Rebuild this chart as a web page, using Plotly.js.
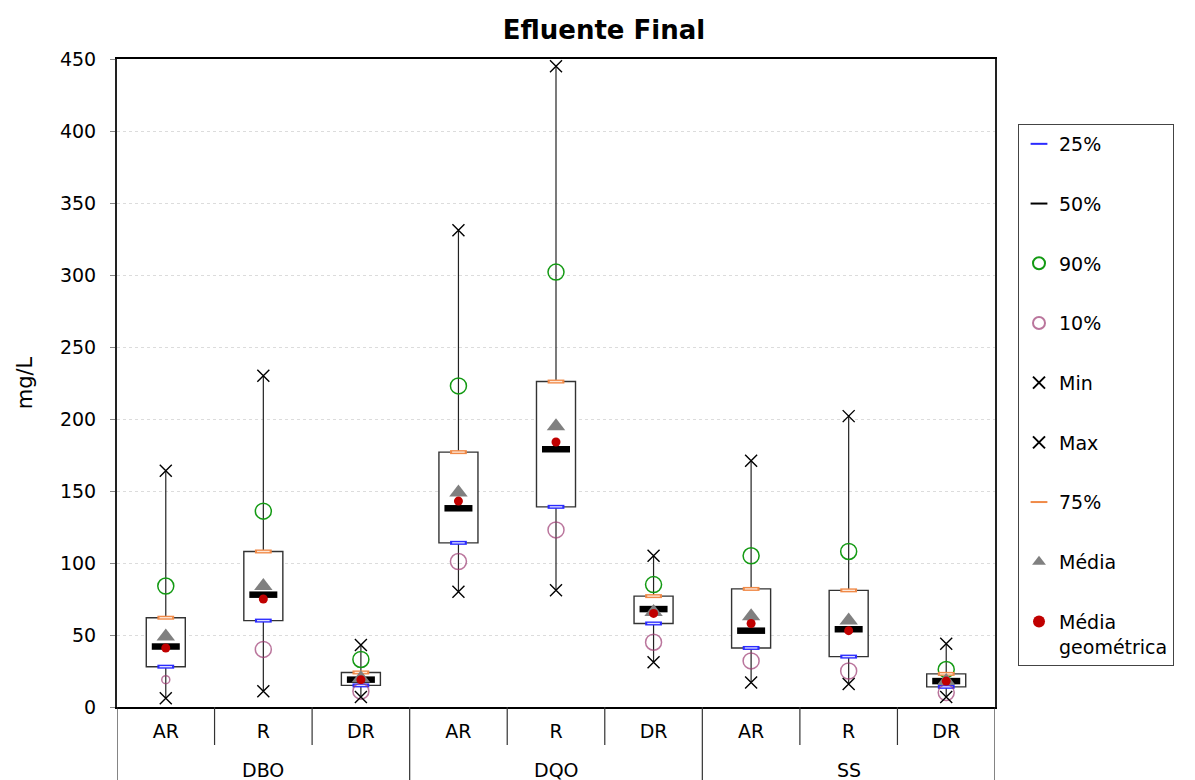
<!DOCTYPE html>
<html>
<head>
<meta charset="utf-8">
<script src="https://cdn.plot.ly/plotly-3.0.1.min.js"></script>
<style>html,body{margin:0;padding:0;background:#fff;}#chart{width:1195px;height:780px;}</style>
</head>
<body>
<div id="chart"></div>
<script>
// ---- data ----
const groups = ['DBO','DBO','DBO','DQO','DQO','DQO','SS','SS','SS'];
const cats   = ['AR','R','DR','AR','R','DR','AR','R','DR'];
const p25   = [28, 60, 15, 114, 139, 58, 41, 35, 14];
const p50   = [42, 78, 19, 138, 179, 68, 53, 54, 18];
const p75   = [62, 108, 24, 177, 226, 77, 82, 81, 23];
const p90   = [84, 136, 33, 223, 302, 85, 105, 108, 26];
const p10   = [19, 40, 11, 101, 123, 45, 32, 25, 10];
const vmin  = [6, 11, 7, 80, 81, 31, 17, 16, 7];
const vmax  = [164, 230, 43, 331, 445, 105, 171, 202, 44];
const media = [49, 84, 20, 149, 195, 66, 63, 60, 18];
const gmean = [41, 75, 19, 143, 184, 65, 58, 53, 18];
const yTicks = [0, 50, 100, 150, 200, 250, 300, 350, 400, 450];

// ---- build ----
const FONT = 'DejaVu Sans, Arial, sans-serif';
const xi = cats.map((_, i) => i);

const wx = [], wy = [];
xi.forEach(i => {
  wx.push(i, i, null, i, i, null);
  wy.push(p75[i], vmax[i], null, p25[i], vmin[i], null);
});

const traces = [];
traces.push({type:'scatter', mode:'lines', x:wx, y:wy, line:{color:'#222', width:1.2},
  showlegend:false, hoverinfo:'skip', connectgaps:false});
traces.push({type:'bar', x:xi, base:p25, y:p75.map((v,i)=>v-p25[i]), width:0.4,
  marker:{color:'#ffffff', line:{color:'#333', width:1.4}}, showlegend:false, hoverinfo:'skip'});

function mk(name, y, marker, grp, extra) {
  return Object.assign({type:'scatter', mode:'markers', name:name, x:xi, y:y,
    marker:marker, legendgroup:grp, hoverinfo:'skip'}, extra || {});
}
const small10 = p10.map((v,i) => i === 0 ? 8 : 16);

traces.push(mk('25%', p25, {symbol:'line-ew', size:12, line:{color:'#2b2bff', width:4}}, 'g1'));
traces.push(mk('25%i', p25, {symbol:'line-ew', size:9, line:{color:'#dde0ff', width:1.3}}, 'g1', {showlegend:false}));
traces.push(mk('50%', p50, {symbol:'line-ew', size:20, line:{color:'#000', width:6.5}}, 'g2'));
traces.push(mk('90%', p90, {symbol:'circle-open', size:16, color:'#139a13', line:{color:'#139a13', width:1.5}}, 'g3'));
traces.push(mk('10%', p10, {symbol:'circle-open', size:small10, color:'#9c3a72', line:{color:'#9c3a72', width:1.5}}, 'g4'));
traces.push(mk('Min', vmin, {symbol:'x-thin-open', size:12, color:'#000', line:{color:'#000', width:1.4}}, 'g5'));
traces.push(mk('Max', vmax, {symbol:'x-thin-open', size:12, color:'#000', line:{color:'#000', width:1.4}}, 'g6'));
traces.push(mk('75%', p75, {symbol:'line-ew', size:12, line:{color:'#f08a48', width:4}}, 'g7'));
traces.push(mk('75%i', p75, {symbol:'line-ew', size:9, line:{color:'#fde7d8', width:1.3}}, 'g7', {showlegend:false}));
traces.push(mk('Média', media, {symbol:'triangle-up', size:16, color:'#808080'}, 'g8'));
traces.push(mk('Média<br>geométrica', gmean, {symbol:'circle', size:9, color:'#c00000'}, 'g9'));

// category axis decoration: dividers and group labels
const shapes = [];
for (let b = 0; b <= cats.length; b++) {
  const isGroupEdge = (b === 0 || b === cats.length || groups[b] !== groups[b-1]);
  shapes.push({type:'line', xref:'x', yref:'paper', x0:b-0.5, x1:b-0.5, y0:0,
    y1: isGroupEdge ? -0.115 : -0.0586, line:{color:'#333', width:1.2}});
}
const annotations = [];
const uniq = [...new Set(groups)];
uniq.forEach(g => {
  const idx = xi.filter(i => groups[i] === g);
  const cx = idx.reduce((a,b)=>a+b,0) / idx.length;
  annotations.push({xref:'x', yref:'paper', x:cx, y:-0.0972, yanchor:'middle', showarrow:false,
    text:g, font:{family:FONT, size:19, color:'#000'}});
});

const layout = {
  width:1195, height:780,
  margin:{l:117, r:200, t:59, b:73},
  paper_bgcolor:'#fff', plot_bgcolor:'#fff',
  font:{family:FONT, size:19, color:'#000'},
  title:{text:'Efluente Final', font:{family:FONT, size:26, weight:'bold', color:'#000'},
    xref:'container', x:0.5054, xanchor:'center', yref:'container', y:0.9615, yanchor:'middle'},
  showlegend:true,
  barmode:'overlay',
  xaxis:{range:[-0.5, 8.5], tickmode:'array', tickvals:xi, ticktext:cats, ticks:'',
    showgrid:false, zeroline:false, showline:true, linecolor:'#000', linewidth:2.2, mirror:true,
    tickfont:{family:FONT, size:19, color:'#000'}, ticklabelstandoff:6, fixedrange:true},
  yaxis:{range:[0, 450], tickmode:'array', tickvals:yTicks, ticks:'outside', ticklen:5, tickcolor:'#888',
    ticklabelstandoff:10,
    showgrid:true, gridcolor:'#dcdcdc', griddash:'dot', gridwidth:1, zeroline:false,
    showline:true, linecolor:'#222', linewidth:2, mirror:true,
    tickfont:{family:FONT, size:19, color:'#000'},
    title:{text:'mg/L', font:{family:FONT, size:21, color:'#000'}, standoff:22}, fixedrange:true},
  legend:{x:1.0262, xanchor:'left', y:0.8997, yanchor:'top', bgcolor:'#fff',
    bordercolor:'#444', borderwidth:1, font:{family:FONT, size:19, color:'#000'},
    traceorder:'grouped', tracegroupgap:32, itemsizing:'constant', valign:'top'},
  shapes:shapes,
  annotations:annotations
};

Plotly.newPlot('chart', traces, layout, {staticPlot:true, displayModeBar:false});
</script>
</body>
</html>
